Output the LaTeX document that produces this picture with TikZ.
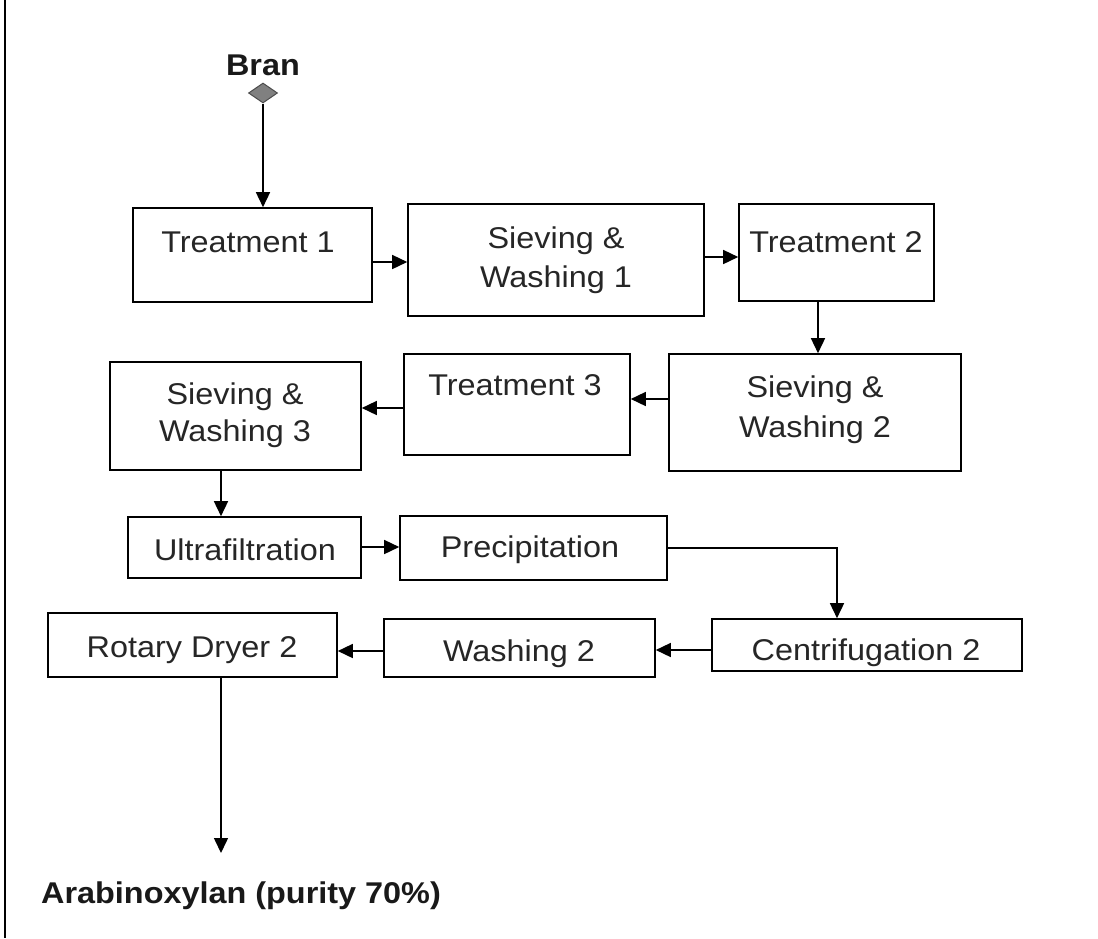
\documentclass[tikz,border=0pt]{standalone}
\usepackage{fontspec}
\setmainfont{Liberation Sans}[FakeStretch=1.08]
\usetikzlibrary{arrows.meta,shapes.geometric}
\begin{document}
\begin{tikzpicture}[x=1pt,y=-1pt,
  box/.style={draw=black,line width=1.6pt,inner sep=0pt},
  lbl/.style={anchor=base,inner sep=0pt,font=\fontsize{30}{36}\selectfont,text=black!85},
  bold/.style={anchor=base,inner sep=0pt,font=\fontsize{30}{36}\selectfont\bfseries,text=black!90},
  arr/.style={line width=1.5pt,-{Triangle[length=15pt,width=14pt]}},
  ln/.style={line width=1.5pt}]
\useasboundingbox (0,0) rectangle (1098,938);
\fill[white] (0,0) rectangle (1098,938);
\coordinate (bl1) at (4.5,0);
\coordinate (bl2) at (4.5,938);
\draw[line width=2pt] (bl1) -- (bl2);

% input
\node[bold] (bran) at (263,75) {Bran};
\node[diamond,draw=black!70,line width=1pt,fill=black!50,aspect=1.45,minimum width=29pt,minimum height=20pt,inner sep=0pt] (dia) at (263,93) {};

% boxes
\node[box,minimum width=239pt,minimum height=94pt] (t1) at (252.5,255) {};
\node[box,minimum width=296pt,minimum height=112pt] (sw1) at (556,260) {};
\node[box,minimum width=195pt,minimum height=97pt] (t2) at (836.5,252.5) {};
\node[box,minimum width=292pt,minimum height=117pt] (sw2) at (815,412.5) {};
\node[box,minimum width=226pt,minimum height=101pt] (t3) at (517,404.5) {};
\node[box,minimum width=251pt,minimum height=108pt] (sw3) at (235.5,416) {};
\node[box,minimum width=233pt,minimum height=61pt] (uf) at (244.5,547.5) {};
\node[box,minimum width=267pt,minimum height=64pt] (pr) at (533.5,548) {};
\node[box,minimum width=310pt,minimum height=52pt] (ce) at (867,645) {};
\node[box,minimum width=271pt,minimum height=58pt] (wa) at (519.5,648) {};
\node[box,minimum width=289pt,minimum height=64pt] (rd) at (192.5,645) {};

% texts
\node[lbl] (t1t) at (248,252) {Treatment 1};
\node[lbl] (sw1a) at (556,248) {Sieving \&};
\node[lbl] (sw1b) at (556,287) {Washing 1};
\node[lbl] (t2t) at (836,252) {Treatment 2};
\node[lbl] (sw2a) at (815,397) {Sieving \&};
\node[lbl] (sw2b) at (815,437) {Washing 2};
\node[lbl] (t3t) at (515,395) {Treatment 3};
\node[lbl] (sw3a) at (235,404) {Sieving \&};
\node[lbl] (sw3b) at (235,441) {Washing 3};
\node[lbl] (uft) at (245,560) {Ultrafiltration};
\node[lbl] (prt) at (530,557) {Precipitation};
\node[lbl] (cet) at (866,660) {Centrifugation 2};
\node[lbl] (wat) at (519,661) {Washing 2};
\node[lbl] (rdt) at (192,657) {Rotary Dryer 2};

% output
\coordinate (outtip) at (221,853);
\node[bold] (out) at (241,903) {Arabinoxylan (purity 70\%)};

% connectors
\draw[arr] (dia.south) -- (dia.south |- t1.north);
\draw[arr] (t1.east |- 0,262) -- (sw1.west |- 0,262);
\draw[arr] (sw1.east |- 0,257) -- (t2.west |- 0,257);
\draw[arr] (818,0 |- t2.south) -- (818,0 |- sw2.north);
\draw[arr] (sw2.west |- 0,399) -- (t3.east |- 0,399);
\draw[arr] (t3.west |- 0,408) -- (sw3.east |- 0,408);
\draw[arr] (221,0 |- sw3.south) -- (221,0 |- uf.north);
\draw[arr] (uf.east |- 0,547) -- (pr.west |- 0,547);
\draw[arr] (pr.east |- 0,548) -| (ce.north -| 837,0);
\draw[arr] (ce.west |- 0,650) -- (wa.east |- 0,650);
\draw[arr] (wa.west |- 0,651) -- (rd.east |- 0,651);
\draw[arr] (221,0 |- rd.south) -- (outtip);
\end{tikzpicture}
\end{document}
